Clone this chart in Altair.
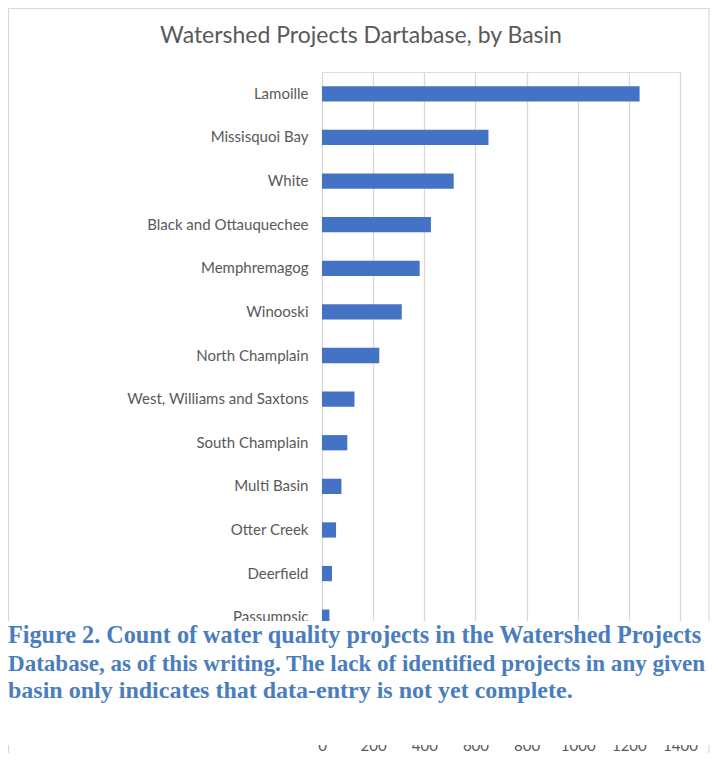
import altair as alt
import pandas as pd

basins = ["Lamoille", "Missisquoi Bay", "White", "Black and Ottauquechee",
          "Memphremagog", "Winooski", "North Champlain",
          "West, Williams and Saxtons", "South Champlain", "Multi Basin",
          "Otter Creek", "Deerfield", "Passumpsic"]
counts = [1242, 651, 515, 426, 382, 312, 224, 127, 99, 76, 55, 39, 29]
x_ticks = [0, 200, 400, 600, 800, 1000, 1200, 1400]
title_text = "Watershed Projects Dartabase, by Basin"
caption_lines = [
    "Figure 2. Count of water quality projects in the Watershed Projects",
    "Database, as of this writing. The lack of identified projects in any given",
    "basin only indicates that data-entry is not yet complete.",
]

df = pd.DataFrame({"basin": basins, "count": counts})
one = pd.DataFrame({"k": [0]})

GRAY = "#595959"
GRID = "#d9d9d9"
CAP = "#4A7DBE"

frame = alt.Chart(one).mark_rect(filled=False, stroke=GRID, strokeWidth=1.2).encode(
    x=alt.value(-313.5), x2=alt.value(387), y=alt.value(-63.5), y2=alt.value(720)
)

title = alt.Chart(one).mark_text(font="Lato", fontSize=23, color=GRAY,
                                 align="center", baseline="middle").encode(
    x=alt.value(39), y=alt.value(-36), text=alt.value(title_text)
)

bars = alt.Chart(df).mark_bar(color="#4472C4").encode(
    x=alt.X("count:Q",
            scale=alt.Scale(domain=[0, 1400], nice=False),
            axis=alt.Axis(values=x_ticks, title=None, grid=True, gridColor=GRID,
                          gridWidth=1.3, ticks=False, domain=False, format="d",
                          labelColor=GRAY, labelFont="Lato", labelFontSize=15,
                          labelPadding=0, offset=99, zindex=0, labelFlush=False)),
    y=alt.Y("basin:N", sort=basins,
            scale=alt.Scale(paddingInner=0.65, paddingOuter=0.325),
            axis=alt.Axis(title=None, ticks=False, domain=False, labelColor=GRAY,
                          labelFont="Lato", labelFontSize=15, labelPadding=14,
                          zindex=0, labelLimit=0)),
)

cover = alt.Chart(one).mark_rect(color="white").encode(
    x=alt.value(-330), x2=alt.value(420), y=alt.value(549), y2=alt.value(673)
)

cap_style = dict(font="Liberation Serif", fontWeight="bold", color=CAP,
                 align="left", baseline="alphabetic")
cap1 = alt.Chart(one).mark_text(fontSize=24.2, **cap_style).encode(
    x=alt.value(-314), y=alt.value(571), text=alt.value(caption_lines[0]))
cap2 = alt.Chart(one).mark_text(fontSize=23.05, **cap_style).encode(
    x=alt.value(-314), y=alt.value(598.5), text=alt.value(caption_lines[1]))
cap3 = alt.Chart(one).mark_text(fontSize=24, **cap_style).encode(
    x=alt.value(-314), y=alt.value(626), text=alt.value(caption_lines[2]))

chart = alt.layer(frame, title, bars, cover, cap1, cap2, cap3).properties(
    width=358, height=567,
    padding={"left": 314, "top": 64, "right": 30, "bottom": 114},
    autosize=alt.AutoSizeParams(type="none"),
).configure_view(strokeWidth=0).configure(background="white")

chart.save("out.html", embed_options={"renderer": "svg", "actions": False})
